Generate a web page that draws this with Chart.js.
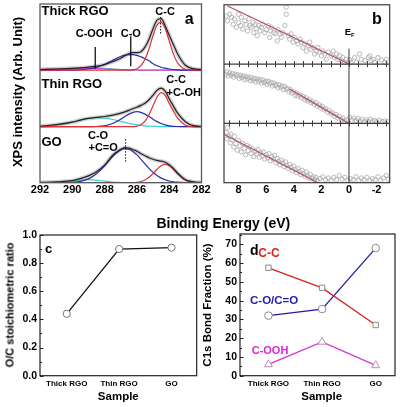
<!DOCTYPE html>
<html>
<head>
<meta charset="utf-8">
<script src="https://cdn.jsdelivr.net/npm/chart.js@4.4.1/dist/chart.umd.min.js"></script>
<style>
  html, body { margin: 0; padding: 0; background: #fff; }
  #wrap { position: relative; width: 406px; height: 407px; overflow: hidden;
          font-family: 'Liberation Sans', Arial, sans-serif; font-weight: bold; }
  canvas { position: absolute; }
  .t { position: absolute; white-space: nowrap; line-height: 1; }
  .t sub { font-size: 6px; vertical-align: -2px; }
</style>
</head>
<body>
<div id="wrap">
  <canvas id="ca" width="215" height="200" style="left:0;top:0"></canvas>
  <canvas id="cb" width="191" height="200" style="left:215px;top:0"></canvas>
  <canvas id="cc" width="205" height="185" style="left:0;top:222px"></canvas>
  <canvas id="cd" width="206" height="185" style="left:200px;top:222px"></canvas>
</div>
<script>
// ---- panel a: C1s spectra (binding energy grid, intensity in arb. units) ----
const energyA = [292, 291, 290, 289.5, 289, 288.5, 288, 287.5, 287, 286.75, 286.5, 286.25, 286,
                 285.75, 285.5, 285.25, 285, 284.75, 284.5, 284.25, 284, 283.75, 283.5, 283, 282.5, 282];

const thickTotal = [0.7, 1.2, 1.9, 2.3, 3, 4, 5.5, 8.5, 12, 14.5, 16.5, 17.5, 17.5, 18.5, 23, 31, 41.5, 50, 51.5, 44.5, 35, 26, 17, 5, 1.5, 0.6];
const thickCC    = [0, 0, 0, 0, 0, 0, 0, 0, 0, 0, 0, 0.4, 1.5, 4.5, 10.9, 21.5, 34.5, 45.2, 48.1, 41.6, 29.3, 16.8, 7.8, 0.9, 0, 0];
const thickCO    = [0, 0, 0.1, 0.4, 1.2, 2.9, 5.9, 9.9, 13.7, 15, 15.6, 15.6, 14.8, 13.3, 11.5, 9.4, 6.5, 4.5, 3, 2, 1.2, 0.7, 0.4, 0.1, 0, 0];
const thickCOOH  = [0.1, 0.5, 1.5, 2.1, 2.5, 2.4, 1.9, 1.2, 0.6, 0.4, 0.2, 0.1, 0.1, 0, 0, 0, 0, 0, 0, 0, 0, 0, 0, 0, 0, 0];
const thickBase  = [0.8, 1.2, 1.6, 1.8, 1.8, 1.6, 1.2, 0.8, 0.5, 0.4, 0.3, 0.2, 0.2, 0.1, 0.1, 0, 0, 0, 0, 0, 0, 0, 0, 0, 0, 0];

const thinTotal = [0.5, 2, 4.6, 6.6, 8.3, 9.3, 10.2, 11.6, 13.5, 14.8, 16.3, 18, 19.5, 21.3, 23.5, 27, 31.5, 36.5, 38.5, 35.5, 28, 21, 14, 5, 1, 0.3];
const thinCC    = [0, 0, 0, 0, 0, 0, 0, 0, 0, 0, 0, 0, 0.6, 2, 5.5, 12, 21, 29.7, 34, 31.3, 23.3, 16, 9, 1.5, 0.1, 0];
const thinCO    = [0, 0, 0, 0, 0, 0.2, 0.9, 3.2, 7.5, 10.2, 12.6, 14.4, 15, 14.4, 12.6, 10.2, 7.5, 5.1, 3.2, 1.8, 0.9, 0.4, 0.2, 0, 0, 0];
const thinCOOH  = [0.3, 1.4, 4.5, 6.5, 8.2, 9, 8.6, 7.2, 5.3, 4.3, 3.4, 2.6, 1.9, 1.3, 0.9, 0.6, 0.4, 0.2, 0.1, 0, 0, 0, 0, 0, 0, 0];

const goTotal = [0.3, 0.8, 2, 4, 6.8, 11, 17.5, 27.5, 33.5, 35, 34.5, 33, 31.5, 29, 27, 25, 23.5, 22.3, 21.5, 20.5, 18, 14.5, 10, 3, 0.8, 0.3];
const goCC    = [0, 0, 0, 0, 0, 0, 0, 0, 0, 0, 0, 0, 0.4, 1.2, 2.7, 5.4, 9.2, 13.5, 17, 18.3, 17, 13.5, 9.2, 2.7, 0.4, 0];
const goCO    = [0, 0, 0.4, 1.3, 3.8, 8.9, 16.9, 26.1, 32.7, 34, 33.4, 31.3, 27.8, 23.4, 18.8, 14.3, 10.3, 7.1, 4.6, 2.9, 1.7, 0.9, 0.5, 0.1, 0, 0];
const goCOOH  = [0, 0.3, 1.5, 2.5, 3, 2.5, 1.5, 0.7, 0.2, 0, 0, 0, 0, 0, 0, 0, 0, 0, 0, 0, 0, 0, 0, 0, 0, 0];

// peak marker lines: energy, low and high intensity, which spectrum
const markE    = [288.58, 286.38, 284.53, 286.7];
const markLo   = [1.7, 4, 36.7, 21];
const markHi   = [23.3, 34, 54, 45];
const markSpec = ['thick', 'thick', 'thick', 'go'];
const markDash = [false, false, true, true];

// ---- panel b: valence band near E_F, [energy (eV), normalised intensity] ----
const vbThick = [[8.9,0.81],[8.8,0.73],[8.65,0.84],[8.5,0.79],[8.4,0.67],[8.3,0.76],[8.15,0.62],[8.0,0.84],[8.0,0.70],[7.85,0.65],
  [7.8,0.79],[7.7,0.59],[7.55,0.73],[7.45,0.67],[7.35,0.56],[7.25,0.76],[7.2,0.65],[7.1,0.62],[6.95,0.70],[6.9,0.53],
  [6.8,0.67],[6.7,0.60],[6.65,0.48],[6.55,0.65],[6.45,0.56],[6.35,0.62],[6.25,0.67],[6.1,0.53],[6.0,0.58],[5.85,0.65],
  [5.75,0.45],[5.7,0.56],[5.6,0.62],[5.45,0.53],[5.35,0.51],[5.2,0.39],[5.15,0.58],[5.0,0.51],[4.9,0.45],[4.8,0.53],
  [4.65,0.65],[4.55,0.96],[4.55,0.84],[4.4,0.48],[4.3,0.42],[4.2,0.51],[4.05,0.37],[3.95,0.45],[3.8,0.39],[3.7,0.34],
  [3.55,0.42],[3.45,0.37],[3.35,0.28],[3.2,0.34],[3.1,0.22],[2.95,0.31],[2.85,0.37],[2.75,0.25],[2.6,0.28],[2.5,0.17],
  [2.35,0.22],[2.25,0.28],[2.15,0.20],[2.0,0.14],[1.9,0.22],[1.75,0.17],[1.65,0.08],[1.5,0.20],[1.3,0.14],[1.15,0.22],
  [1.05,0.11],[0.9,0.17],[0.8,0.08],[0.7,0.14],[0.55,0.06],[0.45,0.11],[0.3,0.03],[0.2,0.08],[-0.05,0.07],[-0.15,0.03],
  [-0.4,0.11],[-0.55,0.03],[-0.75,0.17],[-0.9,0.08],[-1.15,0.06],[-1.4,0.11],[-1.5,0.14],[-1.6,0.06],[-1.75,0.08],[-1.85,0.03],
  [-2.1,0.11],[-2.35,0.07],[-2.6,0.03],[-2.7,0.08]];
const vbThin = [[8.95,0.83],[8.85,0.87],[8.75,0.80],[8.65,0.85],[8.55,0.81],[8.45,0.84],[8.35,0.78],[8.25,0.83],[8.15,0.80],[8.05,0.82],
  [7.95,0.76],[7.85,0.81],[7.75,0.77],[7.65,0.80],[7.55,0.74],[7.45,0.79],[7.35,0.75],[7.25,0.78],[7.15,0.72],[7.05,0.77],
  [6.95,0.73],[6.85,0.76],[6.75,0.70],[6.65,0.75],[6.55,0.71],[6.45,0.74],[6.35,0.68],[6.25,0.73],[6.15,0.69],[6.05,0.71],
  [5.95,0.66],[5.85,0.71],[5.75,0.67],[5.65,0.69],[5.55,0.63],[5.45,0.68],[5.35,0.64],[5.25,0.66],[5.15,0.60],[5.05,0.65],
  [4.95,0.61],[4.85,0.63],[4.75,0.57],[4.65,0.62],[4.55,0.58],[4.45,0.59],[4.35,0.53],[4.25,0.57],[4.15,0.51],[4.0,0.53],
  [3.9,0.47],[3.8,0.51],[3.7,0.46],[3.55,0.48],[3.45,0.43],[3.35,0.46],[3.2,0.40],[3.1,0.43],[3.0,0.38],[2.9,0.40],
  [2.75,0.35],[2.65,0.37],[2.5,0.32],[2.4,0.35],[2.3,0.29],[2.15,0.31],[2.05,0.26],[1.95,0.29],[1.8,0.23],[1.7,0.25],
  [1.55,0.19],[1.45,0.22],[1.3,0.16],[1.2,0.18],[1.05,0.12],[0.95,0.15],[0.8,0.09],[0.7,0.12],[0.55,0.06],[0.45,0.09],
  [0.3,0.04],[0.15,0.06],[-0.05,0.10],[-0.2,0.06],[-0.35,0.09],[-0.5,0.05],[-0.65,0.08],[-0.8,0.04],[-0.95,0.07],[-1.1,0.03],
  [-1.25,0.06],[-1.4,0.04],[-1.55,0.07],[-1.7,0.03],[-1.85,0.05],[-2.0,0.03],[-2.2,0.05],[-2.4,0.03],[-2.6,0.04],[-2.8,0.03]];
const vbGO = [[8.9,0.85],[8.85,0.74],[8.8,0.93],[8.7,0.78],[8.6,0.67],[8.55,0.82],[8.45,0.72],[8.35,0.60],[8.3,0.78],[8.2,0.66],
  [8.1,0.55],[8.0,0.71],[7.9,0.62],[7.8,0.52],[7.7,0.66],[7.6,0.58],[7.5,0.47],[7.4,0.63],[7.3,0.54],[7.2,0.60],
  [7.1,0.49],[7.0,0.57],[6.9,0.44],[6.8,0.53],[6.7,0.48],[6.6,0.56],[6.5,0.43],[6.4,0.50],[6.3,0.45],[6.2,0.52],
  [6.1,0.40],[6.0,0.47],[5.9,0.42],[5.8,0.49],[5.7,0.37],[5.6,0.44],[5.5,0.40],[5.4,0.46],[5.3,0.34],[5.2,0.41],
  [5.1,0.36],[5.0,0.30],[4.9,0.38],[4.8,0.33],[4.7,0.27],[4.6,0.35],[4.5,0.29],[4.4,0.24],[4.3,0.31],[4.2,0.26],
  [4.1,0.20],[4.0,0.28],[3.9,0.22],[3.8,0.17],[3.7,0.24],[3.6,0.19],[3.5,0.14],[3.4,0.21],[3.3,0.15],[3.2,0.11],
  [3.1,0.18],[3.0,0.12],[2.9,0.08],[2.8,0.14],[2.7,0.07],[2.6,0.10],[2.5,0.05],[2.4,0.09],[2.3,0.04],[2.1,0.07],
  [1.9,0.10],[1.7,0.05],[1.5,0.08],[1.3,0.04],[1.1,0.09],[0.9,0.05],[0.7,0.12],[0.5,0.06],[0.3,0.09],[0.1,0.04],
  [-0.1,0.07],[-0.3,0.05],[-0.5,0.10],[-0.7,0.04],[-0.9,0.08],[-1.1,0.05],[-1.3,0.09],[-1.5,0.04],[-1.7,0.07],[-1.9,0.05],
  [-2.1,0.10],[-2.3,0.04],[-2.5,0.08],[-2.7,0.12],[-2.85,0.06]];
// linear edge fits: [energy, intensity] end points
const fitThick = [[8.8, 0.98], [0, 0]];
const fitThin  = [[4.3, 0.58], [0, 0]];
const fitGO    = [[9.0, 0.81], [2.25, 0]];
const efTop = 2.26;

// ---- panels c and d ----
const samples  = ['Thick RGO', 'Thin RGO', 'GO'];
const ocRatio  = [0.44, 0.90, 0.91];
const fracCC   = [57.5, 46.8, 27];
const fracCO   = [32, 35.5, 68];
const fracCOOH = [6, 18, 5.5];

Chart.defaults.font.family = "'Liberation Sans', Arial, sans-serif";
Chart.defaults.font.weight = 'bold';
Chart.defaults.color = '#000';
Chart.defaults.animation = false;

// draws the box, divider lines and inward tick marks
const frameTicks = {
  id: 'frameTicks',
  afterDraw(chart, args, o) {
    const ctx = chart.ctx, a = chart.chartArea, sx = chart.scales.x, sy = chart.scales.y;
    ctx.save();
    ctx.strokeStyle = o.color || '#000';
    ctx.lineWidth = o.width || 1;
    (o.hlines || []).forEach(v => {
      const y = sy.getPixelForValue(v);
      ctx.beginPath(); ctx.moveTo(a.left, y); ctx.lineTo(a.right, y); ctx.stroke();
    });
    ctx.lineWidth = 1;
    (o.ticks || []).forEach(t => {
      t.values.forEach(v => {
        ctx.beginPath();
        if (t.axis === 'x') {
          const x = Math.round(sx.getPixelForValue(v)) + 0.5;
          const y = t.at == null ? a.bottom : sy.getPixelForValue(t.at);
          ctx.moveTo(x, y + (t.down || 0)); ctx.lineTo(x, y - t.len);
        } else {
          const y = Math.round(sy.getPixelForValue(v)) + 0.5;
          ctx.moveTo(a.left, y); ctx.lineTo(a.left + t.len, y);
        }
        ctx.stroke();
      });
    });
    ctx.lineWidth = o.width || 1;
    ctx.strokeRect(a.left, a.top, a.right - a.left, a.bottom - a.top);
    ctx.restore();
  }
};

function range(from, to, step) {
  const out = [];
  for (let v = from; v <= to + 1e-9; v += step) out.push(Math.round(v * 1000) / 1000);
  return out;
}
const noGrid = { display: false, drawTicks: false };

// ---------- panel a ----------
const offset = { thick: 112.5, thin: 56, go: 0 };
function curve(ys, off, color, width, order) {
  return {
    data: energyA.map((e, i) => ({ x: e, y: ys[i] + off })),
    showLine: true, borderColor: color, borderWidth: width, pointRadius: 0,
    cubicInterpolationMode: 'monotone', order: order
  };
}
const aSets = [];
[[thickTotal, thickCC, thickCO, thickCOOH, offset.thick],
 [thinTotal, thinCC, thinCO, thinCOOH, offset.thin],
 [goTotal, goCC, goCO, goCOOH, offset.go]].forEach(s => {
  aSets.push(curve(s[0], s[4], '#cfcfcf', 4, 10));
  aSets.push(curve(s[3], s[4], '#35d0d0', 1.2, 6));
  aSets.push(curve(s[2], s[4], '#2b2bb0', 1.2, 4));
  aSets.push(curve(s[1], s[4], '#e03038', 1.2, 3));
  aSets.push(curve(s[0], s[4], '#222', 1.2, 2));
});
aSets.push(curve(thickBase, offset.thick, '#e040c8', 1.2, 5));
markE.forEach((e, i) => {
  const off = offset[markSpec[i]];
  aSets.push({
    data: [{ x: e, y: markLo[i] + off }, { x: e, y: markHi[i] + off }],
    showLine: true, borderColor: '#111', borderWidth: markDash[i] ? 1 : 1.3,
    borderDash: markDash[i] ? [1.5, 1.5] : [], pointRadius: 0, order: 1
  });
});

new Chart(document.getElementById('ca'), {
  type: 'scatter',
  data: { datasets: aSets },
  options: {
    responsive: false,
    layout: { padding: { left: 40, top: 4, right: 13.5, bottom: 0 } },
    plugins: { legend: { display: false }, tooltip: { enabled: false },
      frameTicks: { color: '#5a5a5a', width: 1.3,
        ticks: [{ axis: 'x', values: range(282, 292, 0.5), len: 2.5 }] } },
    scales: {
      x: { type: 'linear', min: 282, max: 292, reverse: true,
           grid: noGrid, border: { display: false },
           ticks: { stepSize: 2, padding: 1, font: { size: 11, weight: 'bold' } },
           afterFit: s => { s.height = 17.3; } },
      y: { display: false, min: 0, max: 178.7 }
    }
  },
  plugins: [frameTicks]
});

// ---------- panel b ----------
function pts(list, off) { return list.map(p => ({ x: p[0], y: p[1] + off })); }
const bSets = [];
[[vbThick, fitThick, 2], [vbThin, fitThin, 1], [vbGO, fitGO, 0]].forEach(s => {
  bSets.push({ data: pts(s[1], s[2]), showLine: true, borderColor: '#b84a5e', borderWidth: 1.1, pointRadius: 0, order: 1 });
  bSets.push({ data: pts(s[0], s[2]), pointRadius: 2.2, pointBorderWidth: 0.8,
               pointBorderColor: '#a9a9a9', pointBackgroundColor: 'rgba(255,255,255,0)', order: 3 });
});
bSets.push({ data: [{ x: 0, y: 0 }, { x: 0, y: efTop }], showLine: true, borderColor: '#333', borderWidth: 1, pointRadius: 0, order: 0 });

const bTicks = range(-4, 13, 1).map(k => k * 2 / 3);
new Chart(document.getElementById('cb'), {
  type: 'scatter',
  data: { datasets: bSets },
  options: {
    responsive: false,
    layout: { padding: { left: 9, top: 4, right: 16.3, bottom: 0 } },
    plugins: { legend: { display: false }, tooltip: { enabled: false },
      frameTicks: { color: '#3a3a3a', width: 1.2, hlines: [1, 2],
        ticks: [{ axis: 'x', values: bTicks, len: 3 },
                { axis: 'x', values: bTicks, len: 3, down: 3, at: 1 },
                { axis: 'x', values: bTicks, len: 3, down: 3, at: 2 }] } },
    scales: {
      x: { type: 'linear', min: -2.95, max: 9.06, reverse: true,
           grid: noGrid, border: { display: false },
           afterBuildTicks: s => { s.ticks = [8, 6, 4, 2, 0, -2].map(v => ({ value: v })); },
           ticks: { padding: 1, autoSkip: false, maxRotation: 0, font: { size: 11, weight: 'bold' } },
           afterFit: s => { s.height = 17.3; } },
      y: { display: false, min: 0, max: 3 }
    }
  },
  plugins: [frameTicks]
});

// ---------- panels c and d ----------
function catAxis(min, max) {
  return {
    type: 'linear', min: min, max: max,
    grid: noGrid, border: { display: false },
    afterBuildTicks: s => { s.ticks = samples.map((_, i) => ({ value: i })); },
    ticks: { padding: 3, autoSkip: false, maxRotation: 0, font: { size: 8, weight: 'bold' },
             callback: v => samples[v] },
    afterFit: s => { s.height = 31.3; }
  };
}
function series(vals, color, style, radius, edge) {
  return {
    data: vals.map((v, i) => ({ x: i, y: v })), showLine: true,
    borderColor: color, borderWidth: 1.3, pointStyle: style, pointRadius: radius,
    pointBorderColor: edge, pointBorderWidth: 1, pointBackgroundColor: '#fff'
  };
}

new Chart(document.getElementById('cc'), {
  type: 'scatter',
  data: { datasets: [series(ocRatio, '#111', 'circle', 3.6, '#777')] },
  options: {
    responsive: false,
    layout: { padding: { left: 0, top: 13, right: 8.3, bottom: 0 } },
    plugins: { legend: { display: false }, tooltip: { enabled: false },
      frameTicks: { color: '#222', width: 1.2,
        ticks: [{ axis: 'y', values: range(0, 1, 0.2), len: 3.5 },
                { axis: 'y', values: range(0.1, 0.9, 0.2), len: 2 },
                { axis: 'x', values: [0, 1, 2], len: 3 }] } },
    scales: {
      x: catAxis(-0.51, 2.48),
      y: { min: 0, max: 1, grid: noGrid, border: { display: false },
           ticks: { stepSize: 0.2, padding: 3, font: { size: 10.5, weight: 'bold' }, callback: v => v.toFixed(1) },
           afterFit: s => { s.width = 40; } }
    }
  },
  plugins: [frameTicks]
});

new Chart(document.getElementById('cd'), {
  type: 'scatter',
  data: { datasets: [
    series(fracCC, '#d42424', 'rect', 3.8, '#8a8a8a'),
    series(fracCO, '#2020a0', 'circle', 3.8, '#8a8a8a'),
    series(fracCOOH, '#d633d6', 'triangle', 4.6, '#b48fb4')
  ] },
  options: {
    responsive: false,
    layout: { padding: { left: 0, top: 12, right: 11, bottom: 0 } },
    plugins: { legend: { display: false }, tooltip: { enabled: false },
      frameTicks: { color: '#222', width: 1.2,
        ticks: [{ axis: 'y', values: range(0, 70, 10), len: 3.5 },
                { axis: 'y', values: range(5, 75, 10), len: 2 },
                { axis: 'x', values: [0, 1, 2], len: 3 }] } },
    scales: {
      x: catAxis(-0.53, 2.36),
      y: { min: 0, max: 75.5, grid: noGrid, border: { display: false },
           ticks: { stepSize: 10, includeBounds: false, padding: 3, font: { size: 10.5, weight: 'bold' } },
           afterFit: s => { s.width = 40; } }
    }
  },
  plugins: [frameTicks]
});

// ---------- text labels ----------
const wrap = document.getElementById('wrap');
function label(html, x, base, size, color, align) {
  const d = document.createElement('div');
  d.className = 't';
  d.innerHTML = html;
  d.style.fontSize = size + 'px';
  d.style.color = color || '#000';
  d.style.left = x + 'px';
  d.style.top = (base - 0.85 * size) + 'px';
  if (align === 'center') d.style.transform = 'translateX(-50%)';
  wrap.appendChild(d);
}
function vlabel(text, cx, cy, size) {
  const d = document.createElement('div');
  d.className = 't';
  d.textContent = text;
  d.style.fontSize = size + 'px';
  d.style.left = cx + 'px';
  d.style.top = cy + 'px';
  d.style.transform = 'translate(-50%,-50%) rotate(-90deg)';
  wrap.appendChild(d);
}

label('Thick RGO', 41.5, 15, 13);
label('C-OOH', 75.7, 37.7, 11);
label('C-O', 120.7, 37.7, 11);
label('C-C', 155.3, 15, 11);
label('a', 184.7, 25, 16);
label('Thin RGO', 41.5, 88, 13);
label('C-C', 166.3, 83.3, 11);
label('+C-OH', 166.5, 96, 11);
label('GO', 41.5, 146.5, 13);
label('C-O', 88, 139, 11);
label('+C=O', 88.5, 151.5, 11);
label('b', 372, 25, 16);
label('E<sub>F</sub>', 344.7, 35, 9.5);
label('Binding Energy (eV)', 223.3, 227.5, 14, '#000', 'center');
vlabel('XPS intensity (Arb. Unit)', 16.5, 91.7, 13);

label('c', 45, 253.3, 13);
label('d', 250, 255, 14);
label('C-C', 258.3, 256.7, 12, '#e02020');
label('C-O/C=O', 250, 305, 11.5, '#2020b0');
label('C-OOH', 251.7, 354, 11, '#e020e0');
label('Sample', 118.3, 400.7, 11.5, '#000', 'center');
label('Sample', 321.7, 400.7, 11.5, '#000', 'center');
vlabel('O/C stoichiometric ratio', 10, 305, 11);
vlabel('C1s Bond Fraction (%)', 207.5, 304.5, 11.5);
</script>
</body>
</html>
